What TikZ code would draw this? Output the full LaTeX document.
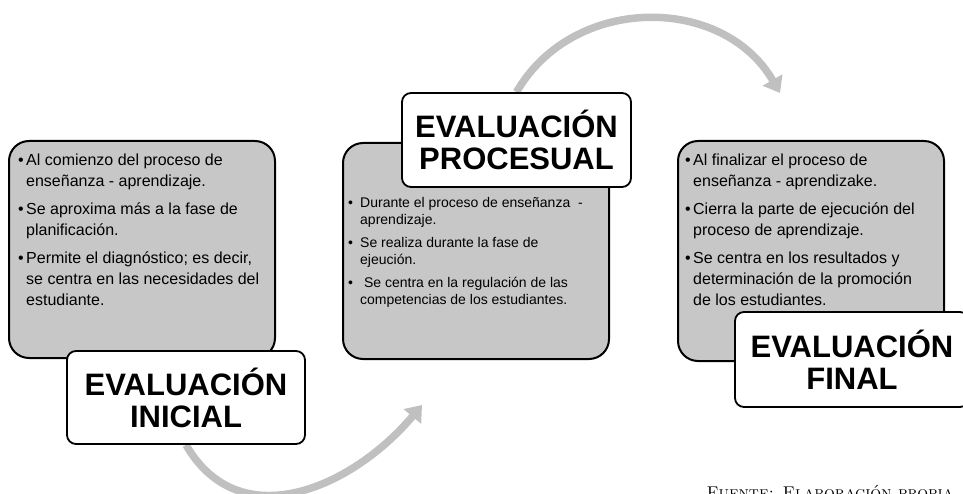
\documentclass[tikz,border=0pt]{standalone}
\usepackage{fontspec}
\setsansfont{Liberation Sans}
\usetikzlibrary{arrows.meta,backgrounds,positioning}
\definecolor{boxgray}{RGB}{199,199,199}
\definecolor{arrowgray}{RGB}{192,192,192}
\newcommand{\bul}{\makebox[8pt][l]{\textbullet}}
\newcommand{\ind}{\hspace*{8pt}}

\begin{document}
\begin{tikzpicture}[x=1pt,y=1pt,
  fase/.style={draw,line width=2pt,rounded corners=20pt,fill=boxgray,
    minimum width=266pt,anchor=north west,inner sep=0pt},
  titulo/.style={draw,line width=1.8pt,rounded corners=9pt,fill=white,
    align=center,inner sep=0pt,
    font=\sffamily\bfseries\fontsize{31}{32}\selectfont},
  lista/.style={anchor=north west,align=left,inner sep=0pt,
    font=\sffamily\fontsize{16}{21}\selectfont},
  flecha/.style={arrowgray,line width=7.5pt,-{Triangle[width=22pt,length=15pt]}}]
\useasboundingbox (0,0) rectangle (963,493);

% cajas grises
\node[fase,minimum height=217pt] (c1) at (8,353) {};
\node[fase,minimum height=216pt] (c2) at (342,351) {};
\node[fase,minimum height=220pt] (c3) at (677,353) {};

% textos
\node[lista] (t1) at ([shift={(10,-14)}]c1.north west)
  {\bul Al comienzo del proceso de\\
   \ind enseñanza - aprendizaje.\\[7pt]
   \bul Se aproxima más a la fase de\\
   \ind planificación.\\[7pt]
   \bul Permite el diagnóstico; es decir,\\
   \ind se centra en las necesidades del\\
   \ind estudiante.};
\node[lista,font=\sffamily\fontsize{14}{17}\selectfont] (t2)
  at ([shift={(6,-55)}]c2.north west)
  {\makebox[12pt][l]{\textbullet}Durante el proceso de enseñanza\ \ -\\
   \hspace*{12pt}aprendizaje.\\[6pt]
   \makebox[12pt][l]{\textbullet}Se realiza durante la fase de\\
   \hspace*{12pt}ejeución.\\[6pt]
   \makebox[12pt][l]{\textbullet}\ Se centra en la regulación de las\\
   \hspace*{12pt}competencias de los estudiantes.};
\node[lista] (t3) at ([shift={(8,-14)}]c3.north west)
  {\bul Al finalizar el proceso de\\
   \ind enseñanza - aprendizake.\\[7pt]
   \bul Cierra la parte de ejecución del\\
   \ind proceso de aprendizaje.\\[7pt]
   \bul Se centra en los resultados y\\
   \ind determinación de la promoción\\
   \ind de los estudiantes.};

% titulos
\node[titulo,minimum width=238pt,minimum height=93pt] (ini) at (186,95.5)
  {EVALUACIÓN\\INICIAL};
\node[titulo,minimum width=229pt,minimum height=94pt] (pro) at (516.5,353)
  {EVALUACIÓN\\PROCESUAL};
\node[titulo,minimum width=234pt,minimum height=95pt] (fin) at (852,133.5)
  {EVALUACIÓN\\FINAL};

% flechas
\coordinate (p1) at (422,88);
\coordinate (p2) at (780,400);
\begin{scope}[on background layer]
\draw[flecha] (ini.south) to[out=-60,in=-130,looseness=1.15] (p1);
\draw[flecha] (pro.north) to[out=60,in=120,looseness=1.1] (p2);
\end{scope}

\node[anchor=base west,font=\fontsize{17}{19}\selectfont] (fuente) at (703,-5)
  {\textsc{Fuente: Elaboración propia}};
\end{tikzpicture}
\end{document}
